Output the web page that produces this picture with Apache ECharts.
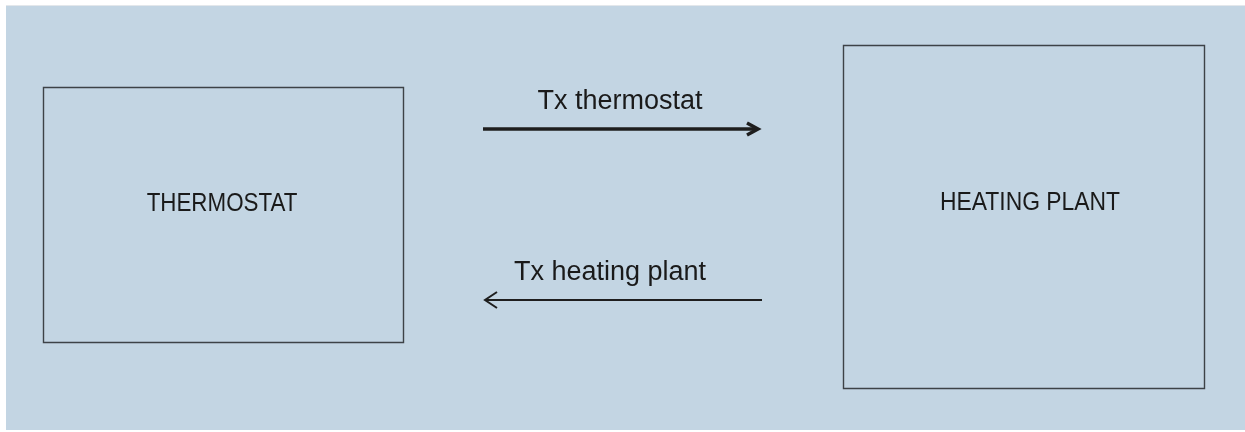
<!DOCTYPE html>
<html>
<head>
<meta charset="utf-8">
<script src="https://cdn.jsdelivr.net/npm/echarts@6/dist/echarts.min.js"></script>
<style>
html,body{margin:0;padding:0;background:#fff;}
#chart{width:1245px;height:432px;}
</style>
</head>
<body>
<div id="chart"></div>
<script>
// Diagram content (diagram units = page pixels)
var panel = [6, 6, 1245, 430];
var boxNames = ['THERMOSTAT', 'HEATING PLANT'];
var boxRects = [[43, 87, 403, 342], [843, 45, 1204, 388]];
var boxLabelPos = [[222, 204], [1030, 203]];
var arrowLabels = ['Tx thermostat', 'Tx heating plant'];
var arrowFrom = [[483, 129], [762, 300]];
var arrowTo = [[758, 129], [485, 300]];
var arrowLabelPos = [[620, 102], [610, 273]];

var FONT = "'Liberation Sans', Arial, sans-serif";
var TEXT = '#1a1a1a';

var chart = echarts.init(document.getElementById('chart'), null, {renderer: 'canvas'});

var boxData = boxNames.map(function (n, i) {
  return [boxRects[i][0], boxRects[i][1], boxRects[i][2], boxRects[i][3], boxLabelPos[i][0], boxLabelPos[i][1], n];
});
var arrowData = arrowLabels.map(function (n, i) {
  return [arrowFrom[i][0], arrowFrom[i][1], arrowTo[i][0], arrowTo[i][1], arrowLabelPos[i][0], arrowLabelPos[i][1], n, i];
});

chart.setOption({
  backgroundColor: '#ffffff',
  animation: false,
  grid: {left: 0, right: 0, top: 0, bottom: 0},
  xAxis: {type: 'value', min: 0, max: 1245, show: false},
  yAxis: {type: 'value', min: 0, max: 432, inverse: true, show: false},
  series: [
    {
      type: 'custom',
      silent: true,
      data: [panel],
      z: 1,
      renderItem: function (params, api) {
        var a = api.coord([api.value(0), api.value(1)]);
        var b = api.coord([api.value(2), api.value(3)]);
        return {
          type: 'group',
          children: [
            {type: 'rect', shape: {x: a[0], y: a[1] - 1, width: b[0] - a[0], height: 1}, style: {fill: '#e3e7eb'}},
            {type: 'rect', shape: {x: a[0], y: a[1], width: b[0] - a[0], height: b[1] - a[1]}, style: {fill: '#c3d5e3'}}
          ]
        };
      }
    },
    {
      type: 'custom',
      silent: true,
      data: boxData,
      z: 2,
      renderItem: function (params, api) {
        var a = api.coord([api.value(0), api.value(1)]);
        var b = api.coord([api.value(2), api.value(3)]);
        var c = api.coord([api.value(4), api.value(5)]);
        var name = boxNames[params.dataIndex];
        var sx = params.dataIndex === 0 ? 0.86 : 0.88;
        return {
          type: 'group',
          children: [
            {type: 'rect', shape: {x: a[0] + 0.5, y: a[1] + 0.5, width: b[0] - a[0], height: b[1] - a[1]},
             style: {fill: null, stroke: '#3d4247', lineWidth: 1.4}},
            {type: 'text', x: c[0], y: c[1], scaleX: sx,
             style: {text: name, font: '26px ' + FONT, fill: TEXT, align: 'center', verticalAlign: 'middle'}}
          ]
        };
      }
    },
    {
      type: 'custom',
      silent: true,
      data: arrowData,
      z: 3,
      renderItem: function (params, api) {
        var i = params.dataIndex;
        var a = api.coord([api.value(0), api.value(1)]);
        var b = api.coord([api.value(2), api.value(3)]);
        var c = api.coord([api.value(4), api.value(5)]);
        var dir = b[0] > a[0] ? 1 : -1;
        var lw = i === 0 ? 3.5 : 2;
        var back = i === 0 ? 11 : 12;
        var half = i === 0 ? 6 : 8;
        var tip = [b[0], b[1]];
        return {
          type: 'group',
          children: [
            {type: 'line', shape: {x1: a[0], y1: a[1], x2: b[0] - dir * 1, y2: b[1]},
             style: {stroke: '#1e1e1e', lineWidth: lw}},
            {type: 'polyline', shape: {points: [[tip[0] - dir * back, tip[1] - half], tip, [tip[0] - dir * back, tip[1] + half]]},
             style: {stroke: '#1e1e1e', lineWidth: lw, fill: null, lineJoin: 'miter'}},
            {type: 'text', x: c[0], y: c[1],
             style: {text: arrowLabels[i], font: '27px ' + FONT, fill: TEXT, align: 'center', verticalAlign: 'middle'}}
          ]
        };
      }
    }
  ]
});
</script>
</body>
</html>
